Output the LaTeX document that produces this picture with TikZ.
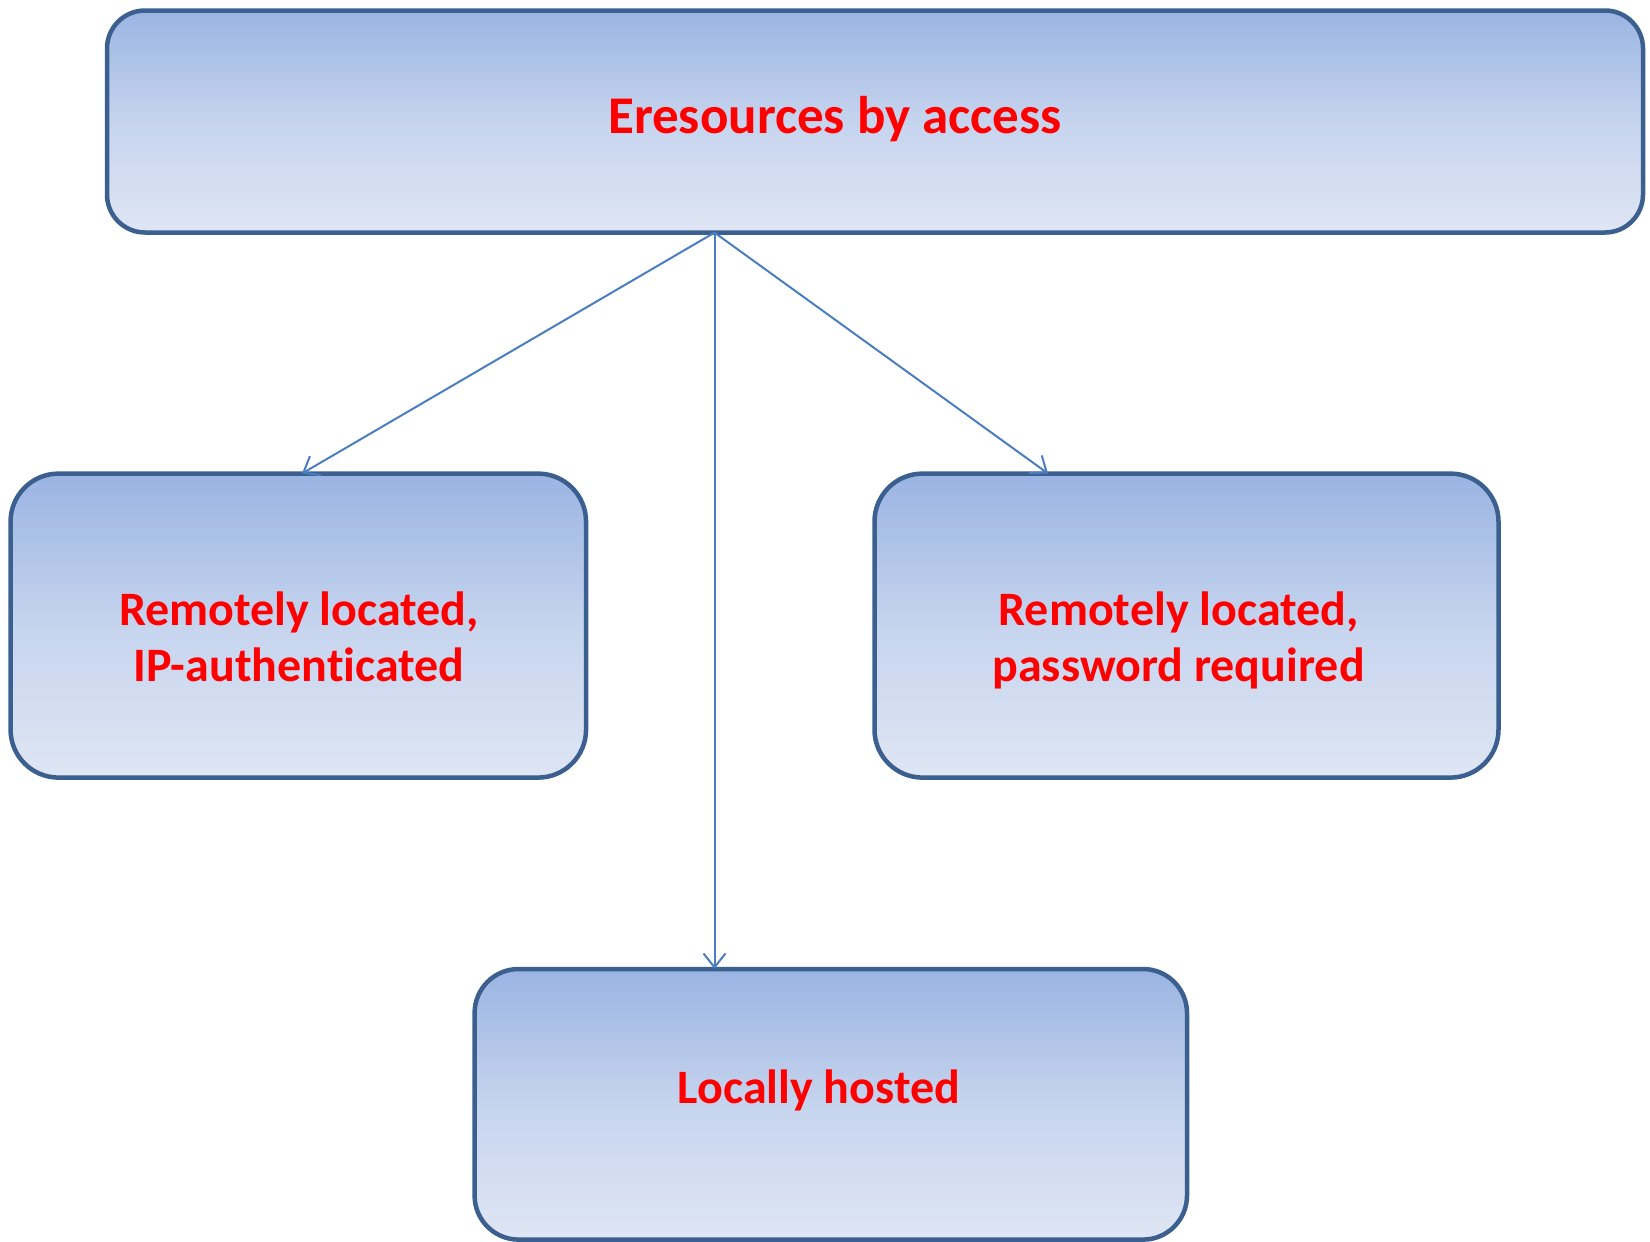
\documentclass[tikz,border=0pt]{standalone}
\usepackage{fontspec}
\setmainfont{Carlito}[Ligatures=NoCommon]
\usetikzlibrary{arrows.meta}
\definecolor{boxline}{HTML}{3B5F8F}
\definecolor{boxtop}{HTML}{9AB4E2}
\definecolor{boxmid}{HTML}{C6D4EE}
\definecolor{boxbot}{HTML}{DFE6F4}
\definecolor{arrowc}{HTML}{4A7EC0}
\definecolor{txtred}{HTML}{FF0000}
\tikzset{
  box/.style={draw=boxline, line width=4.5pt, rounded corners=38pt,
    top color=boxtop, bottom color=boxbot, middle color=boxmid,
    shading angle=0, inner sep=0pt},
  conn/.style={draw=arrowc, line width=2pt,
    -{Straight Barb[length=14pt,width=22pt,line width=2pt]}},
  bigtxt/.style={text=txtred, font=\fontsize{53}{60}\selectfont\bfseries},
  txt/.style={text=txtred, font=\fontsize{48}{56}\selectfont\bfseries, align=center},
}
\begin{document}
\begin{tikzpicture}[x=1pt,y=-1pt]
\useasboundingbox (0,0) rectangle (1650,1242);
\node[box, minimum width=1536pt, minimum height=222pt] (top) at (875,121.5) {};
\node[box, rounded corners=48pt, minimum width=575.5pt, minimum height=304pt] (left) at (298.3,625.6) {};
\node[box, rounded corners=48pt, minimum width=624pt, minimum height=304pt] (right) at (1186.5,625.6) {};
\node[box, rounded corners=44pt, minimum width=712.4pt, minimum height=270.6pt] (bottom) at (830.8,1104.3) {};
\node[bigtxt, anchor=base] (toptxt) at (835,133) {Eresources by access};
\node[txt, anchor=north] (lefttxt) at (299,588) {Remotely located,\\IP-authenticated};
\node[txt, anchor=north] (righttxt) at (1178.6,588) {Remotely located,\\password required};
\node[txt, anchor=base] (bottxt) at (819,1103) {Locally hosted};
\coordinate (src) at (714.5,232.6);
\coordinate (lt) at (302,473.5);
\coordinate (rt) at (1048,473.5);
\coordinate (bt) at (714.5,969);
\draw[conn] (src) -- (lt);
\draw[conn] (src) -- (rt);
\draw[conn] (src) -- (bt);
\end{tikzpicture}
\end{document}
